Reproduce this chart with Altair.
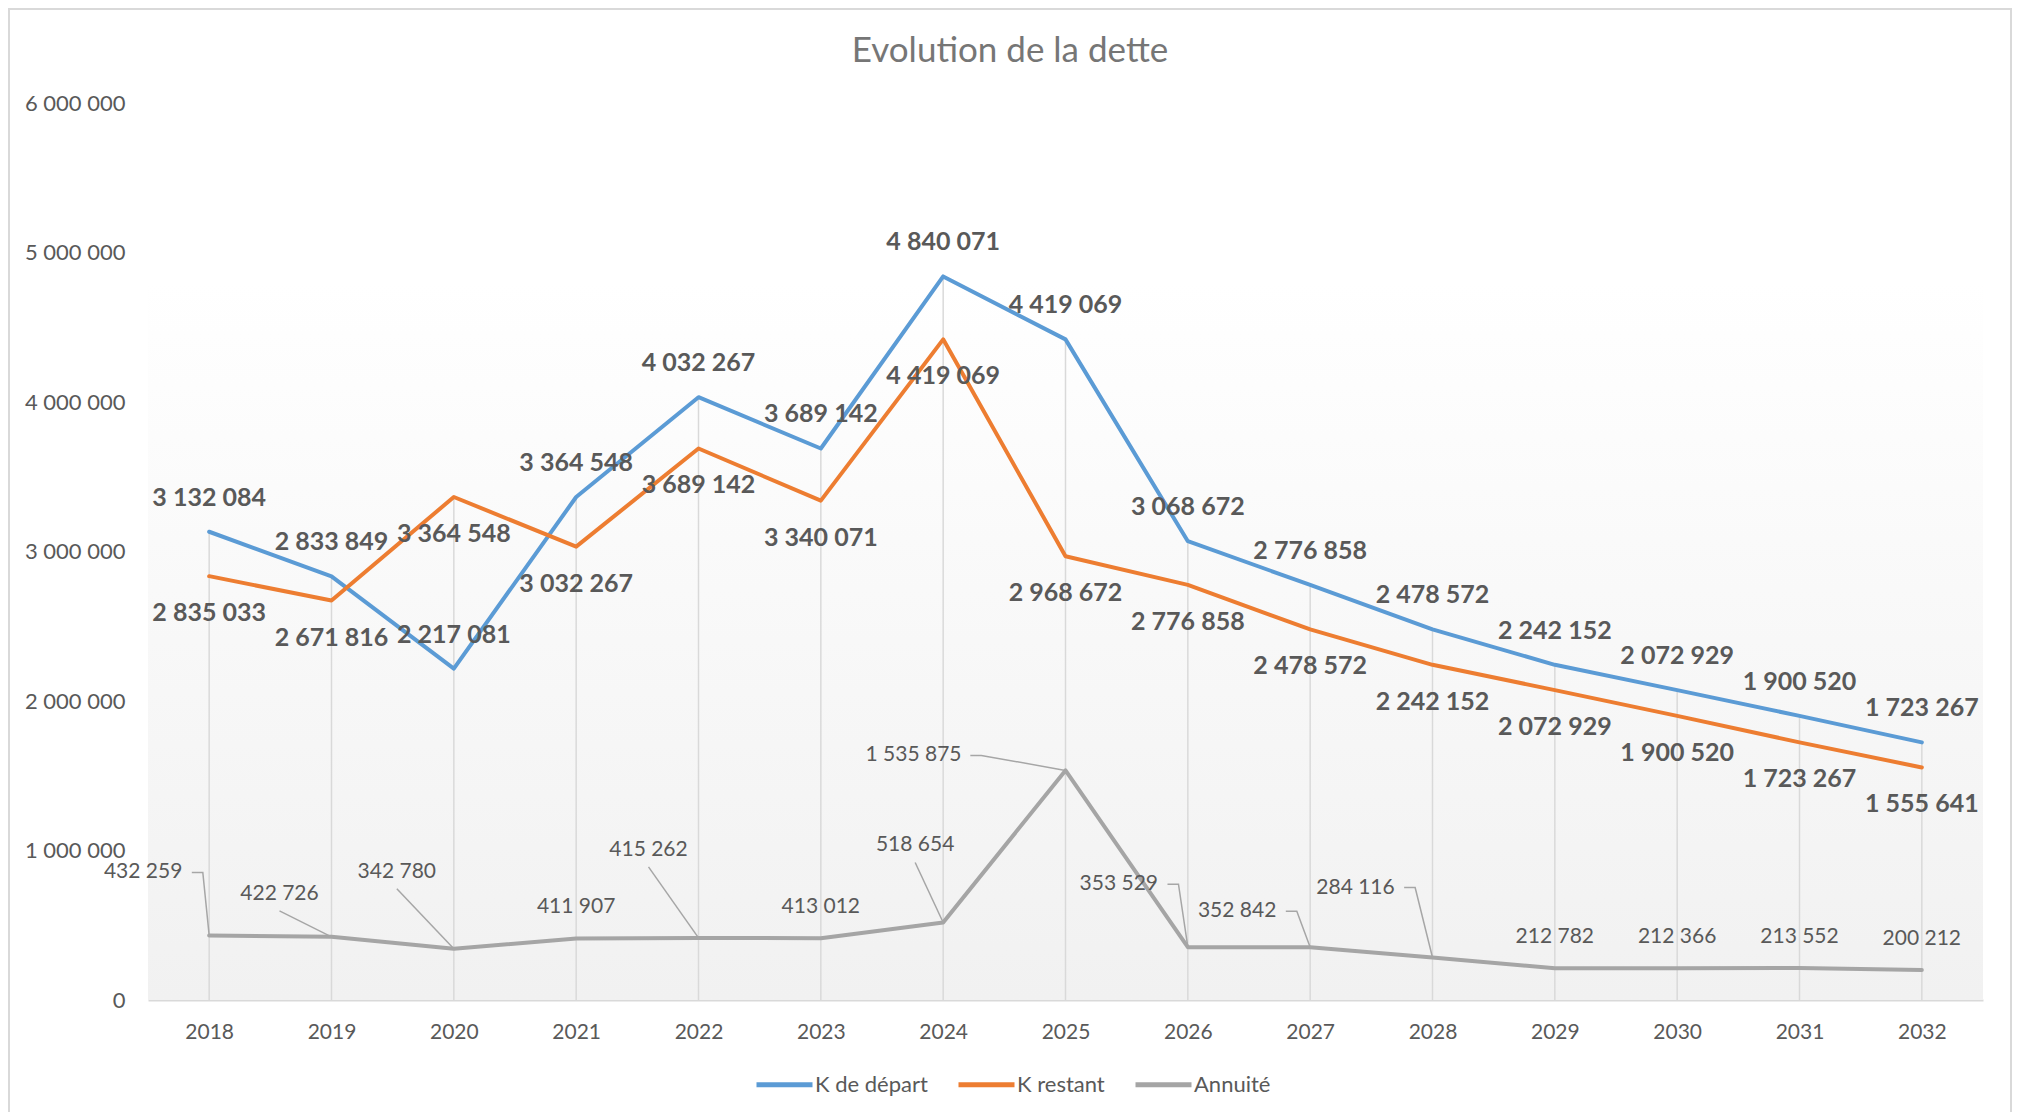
import altair as alt
import pandas as pd

# ---------------- data ----------------
YEARS = [2018, 2019, 2020, 2021, 2022, 2023, 2024, 2025, 2026, 2027, 2028, 2029, 2030, 2031, 2032]
K_DEPART = [3132084, 2833849, 2217081, 3364548, 4032267, 3689142, 4840071, 4419069,
            3068672, 2776858, 2478572, 2242152, 2072929, 1900520, 1723267]
K_RESTANT = [2835033, 2671816, 3364548, 3032267, 3689142, 3340071, 4419069, 2968672,
             2776858, 2478572, 2242152, 2072929, 1900520, 1723267, 1555641]
ANNUITE = [432259, 422726, 342780, 411907, 415262, 413012, 518654, 1535875,
           353529, 352842, 284116, 212782, 212366, 213552, 200212]
SERIES = ["K de départ", "K restant", "Annuité"]
Y_TICKS = [0, 1000000, 2000000, 3000000, 4000000, 5000000, 6000000]
TITLE = "Evolution de la dette"

# ---------------- styles ----------------
COLORS = ["#5B9BD5", "#ED7D31", "#A5A5A5"]
TEXT_COLOR = "#595959"
TITLE_COLOR = "#767676"
GRID_COLOR = "#D9D9D9"
FONT = "Lato"
W, H = 1835, 897
X_MIN, X_MAX = 2017.5, 2032.5
Y_MAX = 6000000
PX_PER_YEAR = W / (X_MAX - X_MIN)
PX_PER_VALUE = H / Y_MAX

# manual placement of the "Annuité" labels (pixel offsets from their point), as in the source
ANN_DX = [-66, -52, -57, 0, -50, 0, -28, -152, -69, -73, -77, 0, 0, 0, 0]
ANN_DY = [-63, -43, -77, -31, -88, -31, -77, -15, -63, -36, -70, -31, -31, -31, -31]
ANN_LEADER = ["side", "below", "below", None, "below", None, "below", "side",
              "side", "side", "side", None, None, None, None]
ANN_FONT_SIZE = 21


def fr(v):
    return f"{v:,}".replace(",", " ")


def text_width(s, size):
    return sum(0.58 if c.isdigit() else 0.2 for c in s) * size


# ---------------- frames ----------------
wide = pd.DataFrame({"year": YEARS, "dep": K_DEPART, "rest": K_RESTANT, "ann": ANNUITE})

long = pd.DataFrame({
    "year": YEARS * 3,
    "series": [s for s in SERIES for _ in YEARS],
    "value": K_DEPART + K_RESTANT + ANNUITE,
})

dep_lab = pd.DataFrame({"year": YEARS, "value": K_DEPART, "label": [fr(v) for v in K_DEPART]})
rest_lab = pd.DataFrame({"year": YEARS, "value": K_RESTANT, "label": [fr(v) for v in K_RESTANT]})
ann_lab = pd.DataFrame({
    "year": YEARS,
    "value": ANNUITE,
    "label": [fr(v) for v in ANNUITE],
    "dx": ANN_DX,
    "dy": ANN_DY,
})
ann_lab["lx"] = ann_lab["year"] + ann_lab["dx"] / PX_PER_YEAR
ann_lab["ly"] = ann_lab["value"] - ann_lab["dy"] / PX_PER_VALUE

leader_rows = []
for i, (yr, v, lab, dx, dy, kind) in enumerate(zip(YEARS, ANNUITE, ann_lab["label"], ANN_DX, ANN_DY, ANN_LEADER)):
    if kind is None:
        continue
    if kind == "side":
        half = text_width(lab, ANN_FONT_SIZE) / 2
        pts = [(dx + half + 10, dy), (dx + half + 21, dy), (0, 0)]
    else:
        pts = [(dx, dy + 17), (0, 0)]
    for k, (px, py) in enumerate(pts):
        leader_rows.append({"id": i, "k": k,
                            "x": yr + px / PX_PER_YEAR,
                            "y": v - py / PX_PER_VALUE})
leaders = pd.DataFrame(leader_rows)

# ---------------- scales / axes ----------------
XS = alt.Scale(domain=[X_MIN, X_MAX], nice=False, zero=False)
YS = alt.Scale(domain=[0, Y_MAX], nice=False)
X_AXIS = alt.Axis(values=YEARS, format="d", title=None, grid=False, ticks=False, tickSize=0,
                  domain=True, domainColor=GRID_COLOR, domainWidth=2,
                  labelFont=FONT, labelFontSize=21, labelColor=TEXT_COLOR, labelPadding=21,
                  labelFlush=False, labelOverlap=False)
Y_AXIS = alt.Axis(values=Y_TICKS, format=",d", title=None, grid=False, ticks=False, tickSize=0,
                  domain=False, labelFont=FONT, labelFontSize=22, labelColor=TEXT_COLOR,
                  labelPadding=23, labelFlush=False, labelOverlap=False)

one = pd.DataFrame({"a": [0]})

background = alt.Chart(one).mark_rect(
    fill=alt.LinearGradient(
        gradient="linear", x1=0, x2=0, y1=0, y2=1,
        stops=[alt.GradientStop(offset=0, color="#FFFFFF"),
               alt.GradientStop(offset=0.2, color="#FFFFFF"),
               alt.GradientStop(offset=1, color="#F1F1F1")],
    ),
    strokeWidth=0,
).encode(x=alt.value(0), x2=alt.value(W), y=alt.value(0), y2=alt.value(H))

border = alt.Chart(one).mark_rect(fill=None, stroke=GRID_COLOR, strokeWidth=2).encode(
    x=alt.value(-139), x2=alt.value(W + 28), y=alt.value(-94), y2=alt.value(H + 140)
)

drops = alt.Chart(wide).transform_calculate(
    top="max(datum.dep, datum.rest)"
).mark_rule(color=GRID_COLOR, strokeWidth=1.5).encode(
    x=alt.X("year:Q", scale=XS, axis=X_AXIS),
    y=alt.Y("top:Q", scale=YS, axis=Y_AXIS),
    y2=alt.datum(0),
)

leader_lines = alt.Chart(leaders).mark_line(color="#A6A6A6", strokeWidth=1.5).encode(
    x=alt.X("x:Q", scale=XS, axis=X_AXIS),
    y=alt.Y("y:Q", scale=YS, axis=Y_AXIS),
    detail="id:N",
    order="k:Q",
)

lines = alt.Chart(long).mark_line(strokeWidth=4, strokeCap="round", strokeJoin="round").encode(
    x=alt.X("year:Q", scale=XS, axis=X_AXIS),
    y=alt.Y("value:Q", scale=YS, axis=Y_AXIS),
    color=alt.Color(
        "series:N",
        scale=alt.Scale(domain=SERIES, range=COLORS),
        sort=SERIES,
        legend=alt.Legend(
            title=None, orient="none", legendX=606, legendY=951, direction="horizontal",
            symbolType="stroke", symbolSize=3136, symbolStrokeWidth=5,
            labelFont=FONT, labelFontSize=22, labelColor=TEXT_COLOR, labelOffset=0,
            columnPadding=20, padding=0,
        ),
    ),
    order=alt.Order("series_order:Q"),
).transform_calculate(
    series_order="indexof(['K de départ','K restant','Annuité'], datum.series)"
)

dep_text = alt.Chart(dep_lab).mark_text(
    font=FONT, fontSize=25, fontWeight="bold", color=TEXT_COLOR, dy=-34, baseline="middle"
).encode(
    x=alt.X("year:Q", scale=XS, axis=X_AXIS),
    y=alt.Y("value:Q", scale=YS, axis=Y_AXIS),
    text="label:N",
)

rest_text = alt.Chart(rest_lab).mark_text(
    font=FONT, fontSize=25, fontWeight="bold", color=TEXT_COLOR, dy=37, baseline="middle"
).encode(
    x=alt.X("year:Q", scale=XS, axis=X_AXIS),
    y=alt.Y("value:Q", scale=YS, axis=Y_AXIS),
    text="label:N",
)

ann_text = alt.Chart(ann_lab).mark_text(
    font=FONT, fontSize=ANN_FONT_SIZE, color=TEXT_COLOR, baseline="middle"
).encode(
    x=alt.X("lx:Q", scale=XS, axis=X_AXIS),
    y=alt.Y("ly:Q", scale=YS, axis=Y_AXIS),
    text="label:N",
)

chart = alt.layer(
    background, drops, leader_lines, lines, dep_text, rest_text, ann_text, border
).properties(
    width=W,
    height=H,
    title=alt.TitleParams(
        TITLE, font=FONT, fontSize=35, fontWeight="normal", color=TITLE_COLOR,
        anchor="middle", frame="bounds", baseline="alphabetic", offset=-88.5,
    ),
    autosize=alt.AutoSizeParams(type="none"),
    padding={"left": 140, "top": 95, "right": 29, "bottom": 112},
).configure(
    font=FONT,
    background="#FFFFFF",
    locale={"number": {"decimal": ",", "thousands": " ", "grouping": [3], "currency": ["", " €"]}},
).configure_view(stroke=None)

chart.save("out.html", embed_options={"renderer": "svg", "actions": False})
